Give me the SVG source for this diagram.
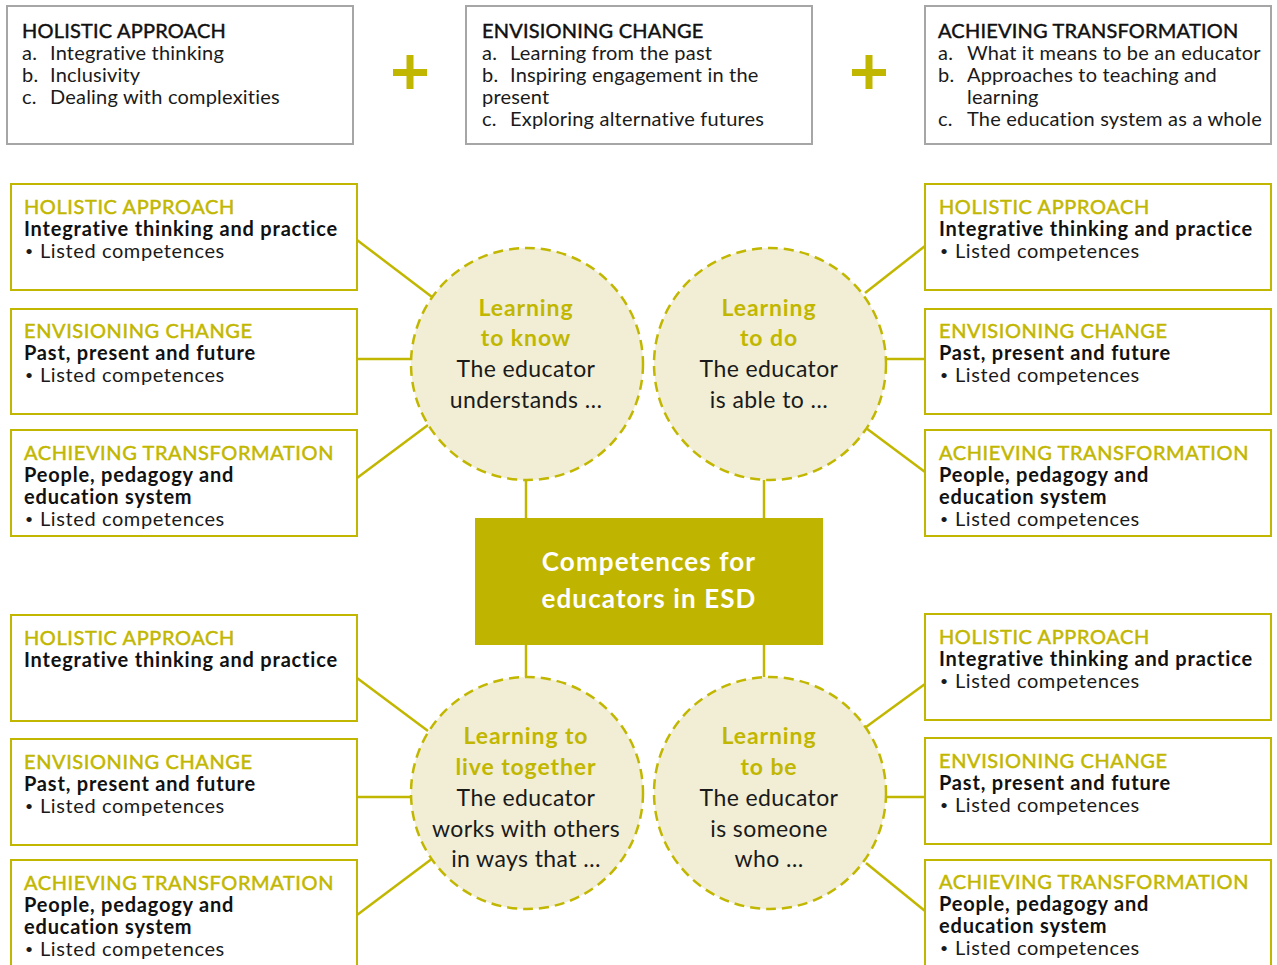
<svg xmlns="http://www.w3.org/2000/svg" width="1277" height="965" viewBox="0 0 1277 965">
<style>
.top{fill:#fff;stroke:#a6a6a6;stroke-width:2}
.box{fill:#fff;stroke:#c2b700;stroke-width:2}
.t{font-family:Lato,"Noto Sans",sans-serif;font-size:20px;fill:#1a1a1a;letter-spacing:0.2px}
.ti{font-family:Lato,"Noto Sans",sans-serif;font-size:20px;fill:#1a1a1a;letter-spacing:0.6px}
.dot{font-family:Lato,"Noto Sans",sans-serif;font-size:14px;fill:#1a1a1a}
.th{font-family:Lato,"Noto Sans",sans-serif;font-size:20px;fill:#111;stroke:#111;stroke-width:0.45px;letter-spacing:0.2px}
.h{font-family:Lato,"Noto Sans",sans-serif;font-size:20px;fill:#c2b700;stroke:#c2b700;stroke-width:0.5px;letter-spacing:0.6px}
.b{font-family:Lato,"Noto Sans",sans-serif;font-size:20px;fill:#111;font-weight:700;letter-spacing:0.8px}
.c{fill:#f1eed5;stroke:#c2b700;stroke-width:2.5;stroke-dasharray:10 6}
.ct{font-family:Lato,"Noto Sans",sans-serif;font-size:23px;fill:#1a1a1a;text-anchor:middle;letter-spacing:0.4px}
.cb{font-family:Lato,"Noto Sans",sans-serif;font-size:23px;fill:#c2b700;font-weight:700;text-anchor:middle;letter-spacing:0.9px}
.w{font-family:Lato,"Noto Sans",sans-serif;font-size:26px;fill:#fff;font-weight:700;text-anchor:middle;letter-spacing:1.1px}
.ln{stroke:#c2b700;stroke-width:2.5;fill:none}
.plus{fill:#c2b700}
</style>

<g id="top-holistic">
<rect class="top" x="7" y="6" width="346" height="138"/>
<text class="th" x="22" y="38">HOLISTIC APPROACH</text>
<text class="t" x="22" y="60">a.</text><text class="t" x="50" y="60">Integrative thinking</text>
<text class="t" x="22" y="82">b.</text><text class="t" x="50" y="82">Inclusivity</text>
<text class="t" x="22" y="104">c.</text><text class="t" x="50" y="104">Dealing with complexities</text>
</g>
<g id="plus1"><rect class="plus" x="393" y="69" width="34" height="7"/><rect class="plus" x="406.5" y="55" width="7" height="34"/></g>
<g id="top-envisioning">
<rect class="top" x="466" y="6" width="346" height="138"/>
<text class="th" x="482" y="38">ENVISIONING CHANGE</text>
<text class="t" x="482" y="60">a.</text><text class="t" x="510" y="60">Learning from the past</text>
<text class="t" x="482" y="82">b.</text><text class="t" x="510" y="82">Inspiring engagement in the</text>
<text class="t" x="482" y="104">present</text>
<text class="t" x="482" y="126">c.</text><text class="t" x="510" y="126">Exploring alternative futures</text>
</g>
<g id="plus2"><rect class="plus" x="852" y="69" width="34" height="7"/><rect class="plus" x="865.5" y="55" width="7" height="34"/></g>
<g id="top-achieving">
<rect class="top" x="925" y="6" width="346" height="138"/>
<text class="th" x="938" y="38">ACHIEVING TRANSFORMATION</text>
<text class="t" x="938" y="60">a.</text><text class="t" x="967" y="60">What it means to be an educator</text>
<text class="t" x="938" y="82">b.</text><text class="t" x="967" y="82">Approaches to teaching and</text>
<text class="t" x="967" y="104">learning</text>
<text class="t" x="938" y="126">c.</text><text class="t" x="967" y="126">The education system as a whole</text>
</g>

<g id="connectors">
<line class="ln" x1="357" y1="240" x2="432" y2="297"/>
<line class="ln" x1="357" y1="359" x2="411" y2="359"/>
<line class="ln" x1="357" y1="478" x2="428" y2="425"/>
<line class="ln" x1="925" y1="246" x2="865" y2="293"/>
<line class="ln" x1="886" y1="359" x2="925" y2="359"/>
<line class="ln" x1="866" y1="428" x2="925" y2="472"/>
<line class="ln" x1="357" y1="678" x2="428" y2="731"/>
<line class="ln" x1="357" y1="797" x2="411" y2="797"/>
<line class="ln" x1="357" y1="915" x2="433" y2="858"/>
<line class="ln" x1="925" y1="684" x2="866" y2="727"/>
<line class="ln" x1="886" y1="797" x2="925" y2="797"/>
<line class="ln" x1="866" y1="863" x2="925" y2="911"/>
<line class="ln" x1="526" y1="480" x2="526" y2="518"/>
<line class="ln" x1="764" y1="480" x2="764" y2="518"/>
<line class="ln" x1="526" y1="645" x2="526" y2="677"/>
<line class="ln" x1="764" y1="645" x2="764" y2="677"/>
</g>

<g id="center">
<rect x="475" y="518" width="348" height="127" fill="#bfb500"/>
<text class="w" x="649" y="571">Competences for</text>
<text class="w" x="649" y="608">educators in ESD</text>
</g>

<g id="circle-know">
<circle class="c" cx="527" cy="364" r="116"/>
<text class="cb" x="526" y="316">Learning</text>
<text class="cb" x="526" y="346">to know</text>
<text class="ct" x="526" y="377">The educator</text>
<text class="ct" x="526" y="408">understands …</text>
</g>
<g id="circle-do">
<circle class="c" cx="770" cy="364" r="116"/>
<text class="cb" x="769" y="316">Learning</text>
<text class="cb" x="769" y="346">to do</text>
<text class="ct" x="769" y="377">The educator</text>
<text class="ct" x="769" y="408">is able to …</text>
</g>
<g id="circle-live">
<circle class="c" cx="527" cy="793" r="116"/>
<text class="cb" x="526" y="744">Learning to</text>
<text class="cb" x="526" y="775">live together</text>
<text class="ct" x="526" y="806">The educator</text>
<text class="ct" x="526" y="837">works with others</text>
<text class="ct" x="526" y="867">in ways that …</text>
</g>
<g id="circle-be">
<circle class="c" cx="770" cy="793" r="116"/>
<text class="cb" x="769" y="744">Learning</text>
<text class="cb" x="769" y="775">to be</text>
<text class="ct" x="769" y="806">The educator</text>
<text class="ct" x="769" y="837">is someone</text>
<text class="ct" x="769" y="867">who …</text>
</g>

<g id="l1-holistic">
<rect class="box" x="11" y="184" width="346" height="106"/>
<text class="h" x="24" y="214">HOLISTIC APPROACH</text>
<text class="b" x="24" y="236">Integrative thinking and practice</text>
<text class="dot" x="25" y="256">•</text><text class="ti" x="40" y="258">Listed competences</text>
</g>
<g id="l1-envisioning">
<rect class="box" x="11" y="309" width="346" height="105"/>
<text class="h" x="24" y="338">ENVISIONING CHANGE</text>
<text class="b" x="24" y="360">Past, present and future</text>
<text class="dot" x="25" y="380">•</text><text class="ti" x="40" y="382">Listed competences</text>
</g>
<g id="l1-achieving">
<rect class="box" x="11" y="430" width="346" height="106"/>
<text class="h" x="24" y="460">ACHIEVING TRANSFORMATION</text>
<text class="b" x="24" y="482">People, pedagogy and</text>
<text class="b" x="24" y="504">education system</text>
<text class="dot" x="25" y="524">•</text><text class="ti" x="40" y="526">Listed competences</text>
</g>

<g id="r1-holistic">
<rect class="box" x="925" y="184" width="346" height="106"/>
<text class="h" x="939" y="214">HOLISTIC APPROACH</text>
<text class="b" x="939" y="236">Integrative thinking and practice</text>
<text class="dot" x="940" y="256">•</text><text class="ti" x="955" y="258">Listed competences</text>
</g>
<g id="r1-envisioning">
<rect class="box" x="925" y="309" width="346" height="105"/>
<text class="h" x="939" y="338">ENVISIONING CHANGE</text>
<text class="b" x="939" y="360">Past, present and future</text>
<text class="dot" x="940" y="380">•</text><text class="ti" x="955" y="382">Listed competences</text>
</g>
<g id="r1-achieving">
<rect class="box" x="925" y="430" width="346" height="106"/>
<text class="h" x="939" y="460">ACHIEVING TRANSFORMATION</text>
<text class="b" x="939" y="482">People, pedagogy and</text>
<text class="b" x="939" y="504">education system</text>
<text class="dot" x="940" y="524">•</text><text class="ti" x="955" y="526">Listed competences</text>
</g>

<g id="l2-holistic">
<rect class="box" x="11" y="615" width="346" height="106"/>
<text class="h" x="24" y="645">HOLISTIC APPROACH</text>
<text class="b" x="24" y="667">Integrative thinking and practice</text>
</g>
<g id="l2-envisioning">
<rect class="box" x="11" y="739" width="346" height="106"/>
<text class="h" x="24" y="769">ENVISIONING CHANGE</text>
<text class="b" x="24" y="791">Past, present and future</text>
<text class="dot" x="25" y="811">•</text><text class="ti" x="40" y="813">Listed competences</text>
</g>
<g id="l2-achieving">
<rect class="box" x="11" y="860" width="346" height="110"/>
<text class="h" x="24" y="890">ACHIEVING TRANSFORMATION</text>
<text class="b" x="24" y="912">People, pedagogy and</text>
<text class="b" x="24" y="934">education system</text>
<text class="dot" x="25" y="954">•</text><text class="ti" x="40" y="956">Listed competences</text>
</g>

<g id="r2-holistic">
<rect class="box" x="925" y="614" width="346" height="106"/>
<text class="h" x="939" y="644">HOLISTIC APPROACH</text>
<text class="b" x="939" y="666">Integrative thinking and practice</text>
<text class="dot" x="940" y="686">•</text><text class="ti" x="955" y="688">Listed competences</text>
</g>
<g id="r2-envisioning">
<rect class="box" x="925" y="738" width="346" height="106"/>
<text class="h" x="939" y="768">ENVISIONING CHANGE</text>
<text class="b" x="939" y="790">Past, present and future</text>
<text class="dot" x="940" y="810">•</text><text class="ti" x="955" y="812">Listed competences</text>
</g>
<g id="r2-achieving">
<rect class="box" x="925" y="860" width="346" height="110"/>
<text class="h" x="939" y="889">ACHIEVING TRANSFORMATION</text>
<text class="b" x="939" y="911">People, pedagogy and</text>
<text class="b" x="939" y="933">education system</text>
<text class="dot" x="940" y="953">•</text><text class="ti" x="955" y="955">Listed competences</text>
</g>
</svg>
